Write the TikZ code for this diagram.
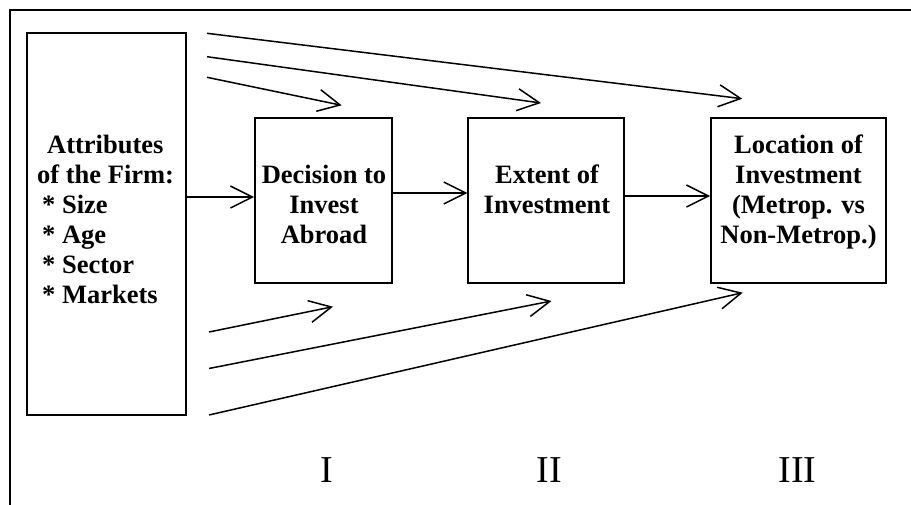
\documentclass[tikz,border=0pt]{standalone}
\usepackage{fontspec}
\setmainfont{Liberation Serif}
\usetikzlibrary{
	arrows.meta,									% 提供各种箭头样式
	positioning,									% 节点的高级摆放
}

\begin{document}
\begin{tikzpicture}[x=1pt, y=-1pt,
		box/.style={draw, line width=1.8pt, inner sep=0pt},
		boxtext/.style={font=\fontsize{26.5}{30}\selectfont\bfseries, align=center, anchor=base, inner sep=0pt},
		link/.style={line width=1.5pt, -{Straight Barb[length=22pt, width=22pt]}},
		stage/.style={font=\fontsize{38}{40}\selectfont, anchor=base, inner sep=0pt},
	]
		\useasboundingbox (0,0) rectangle (911,504);
		\clip (0,0) rectangle (911,504);
		\draw[line width=1.8pt] (10,10) rectangle (940,540); %外框,右边和下边在图外
		% 四个方框
		\node[box, minimum width=159pt, minimum height=381.7pt] (attr)   at (106.2,224.2) {};
		\node[box, minimum width=137pt, minimum height=164.4pt] (decide) at (323.5,200.5) {};
		\node[box, minimum width=155.7pt, minimum height=164.4pt] (extent) at (546.2,200.5) {};
		\node[box, minimum width=175pt, minimum height=164.4pt] (loc)    at (798.5,200.5) {};
		% 方框里的文字(base 是最后一行的基线)
		\node[boxtext, align=left, anchor=base west] (attrtext) at (37,303)
			{\hspace*{10pt}Attributes\\ of the Firm:\\ \hspace*{5pt}* Size\\ \hspace*{5pt}* Age\\ \hspace*{5pt}* Sector\\ \hspace*{5pt}* Markets};
		\node[boxtext] (decidetext) at (324,243) {Decision to\\ Invest\\ Abroad};
		\node[boxtext] (extenttext) at (547,213) {Extent of\\ Investment};
		\node[boxtext] (loctext)    at (798.5,243) {Location of\\ Investment\\ (Metrop. vs\\ Non-Metrop.)};
		% 阶段编号
		\node[stage] (one)   at (326.5,482) {I};
		\node[stage] (two)   at (549,482)   {II};
		\node[stage] (three) at (797.5,482) {III};
		% 中间的横向箭头
		\coordinate (a1) at ([yshift=3.5pt]decide.west);
		\coordinate (a2) at ([yshift=7.5pt]extent.west);
		\coordinate (a3) at ([yshift=4.5pt]loc.west);
		\draw[link] (a1 -| attr.east) -- (a1);
		\draw[link] (a2 -| decide.east) -- (a2);
		\draw[link] (a3 -| extent.east) -- (a3);
		% 上方三条斜箭头
		\coordinate (top1) at (207,33.3);   \coordinate (topend1) at (742.3,98.7);
		\coordinate (top2) at (207,56.7);   \coordinate (topend2) at (541,103);
		\coordinate (top3) at (207,77.3);   \coordinate (topend3) at (341.7,105.3);
		\draw[link] (top1) -- (topend1);
		\draw[link] (top2) -- (topend2);
		\draw[link] (top3) -- (topend3);
		% 下方三条斜箭头
		\coordinate (bot1) at (209,332);    \coordinate (botend1) at (333,306.7);
		\coordinate (bot2) at (209,368.5);  \coordinate (botend2) at (551.5,301);
		\coordinate (bot3) at (209,415);    \coordinate (botend3) at (742.7,292.7);
		\draw[link] (bot1) -- (botend1);
		\draw[link] (bot2) -- (botend2);
		\draw[link] (bot3) -- (botend3);
	\end{tikzpicture}
\end{document}
